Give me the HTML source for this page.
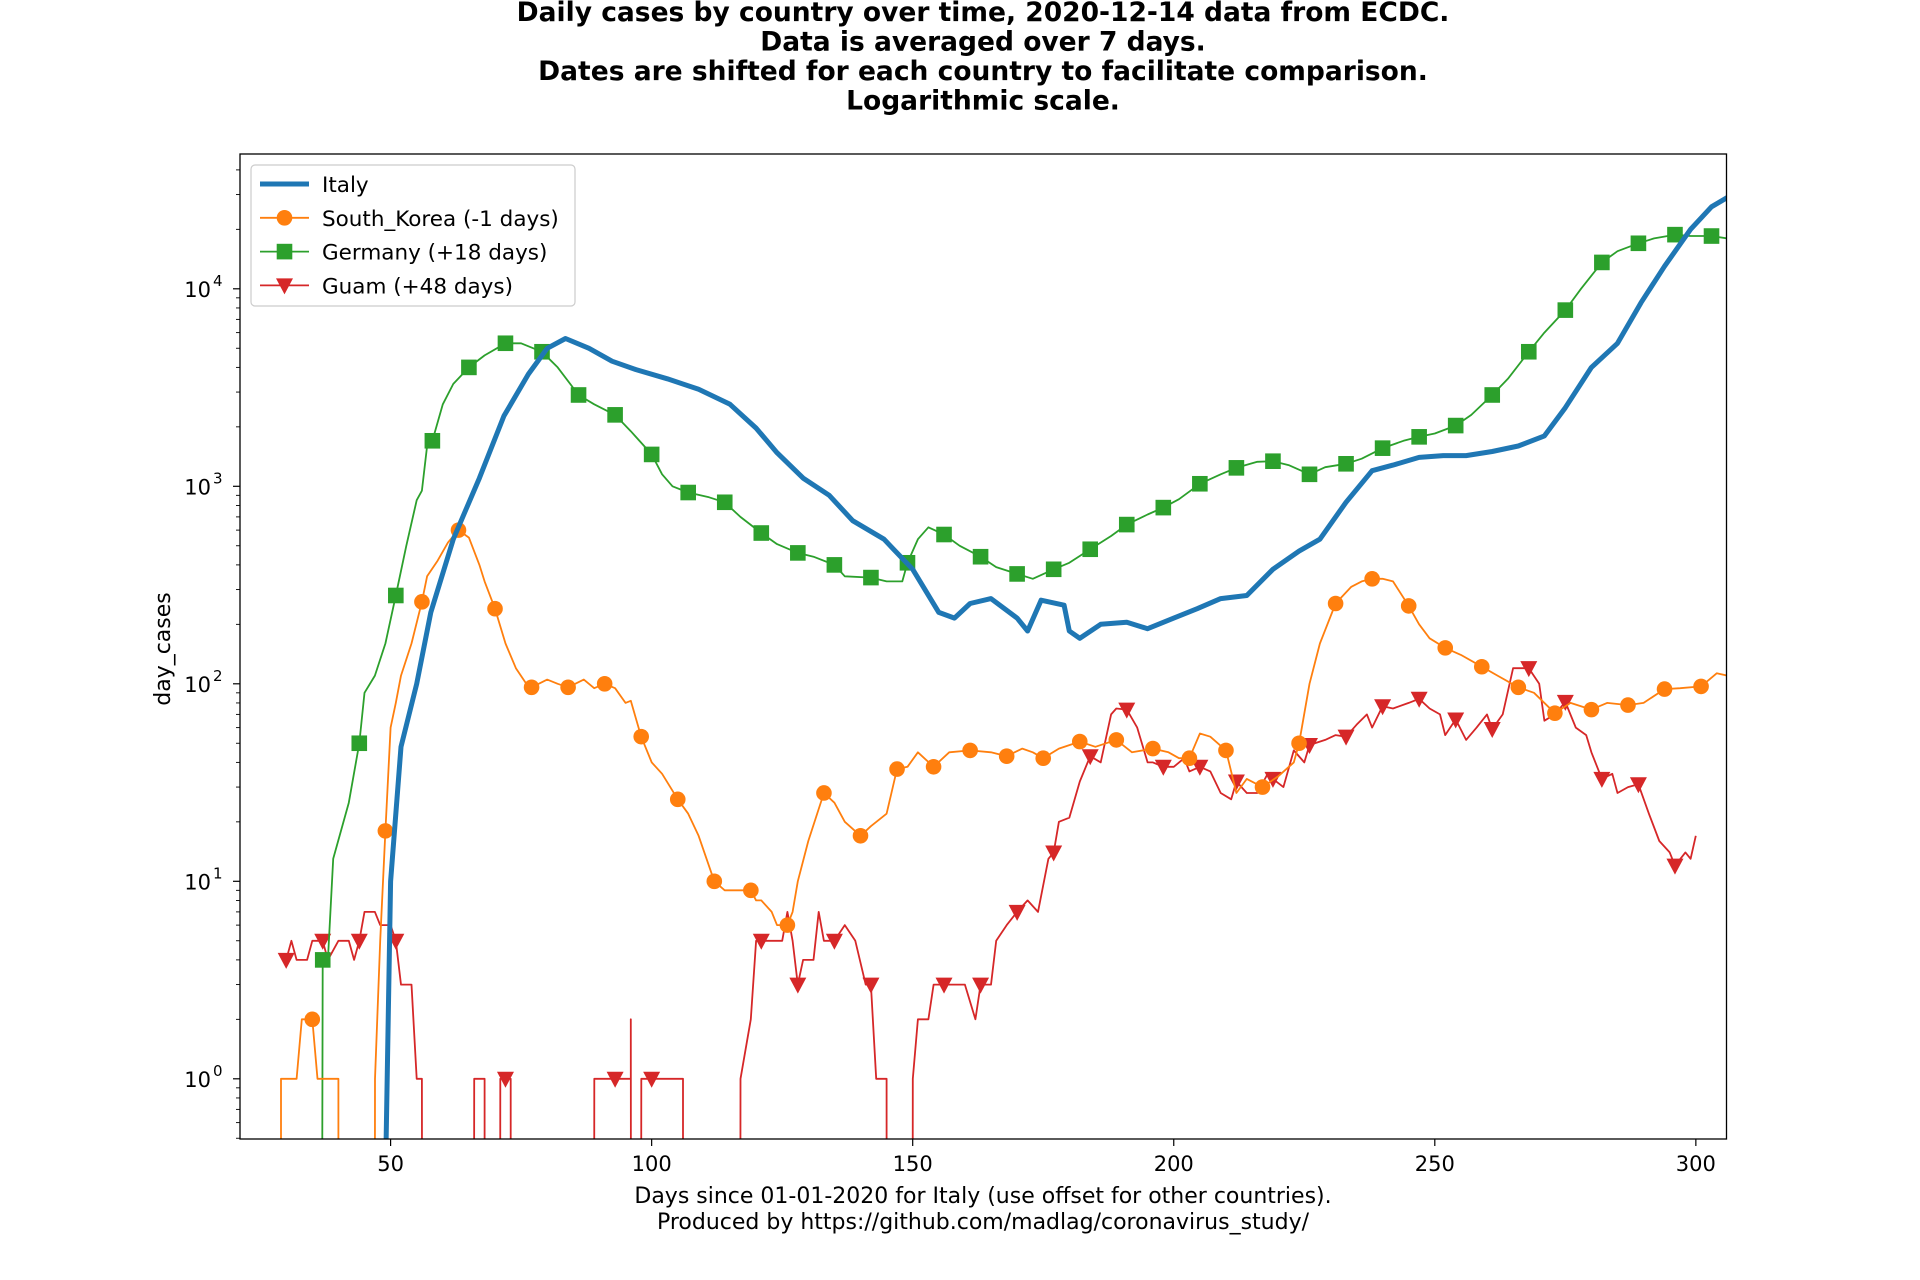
<!DOCTYPE html>
<html><head><meta charset="utf-8"><style>
html,body{margin:0;padding:0;background:#fff;}
svg{display:block;font-family:"DejaVu Sans","Liberation Sans",sans-serif;}
</style></head><body>
<svg id="chart" width="1920" height="1280" viewBox="0 0 1920 1280" xmlns="http://www.w3.org/2000/svg">
<rect width="1920" height="1280" fill="#fff"/>
<g font-weight="bold" font-size="26.5" text-anchor="middle" fill="#000">
<text x="983" y="21">Daily cases by country over time, 2020-12-14 data from ECDC.</text>
<text x="983" y="50.5">Data is averaged over 7 days.</text>
<text x="983" y="80">Dates are shifted for each country to facilitate comparison.</text>
<text x="983" y="109.5">Logarithmic scale.</text>
</g>
<defs><clipPath id="plotclip"><rect x="240" y="154" width="1486.5" height="985"/></clipPath></defs>
<g id="axes"></g>
<g id="series" clip-path="url(#plotclip)"></g>
<rect x="240" y="154" width="1486.5" height="985" fill="none" stroke="#000" stroke-width="1.3"/>
<g font-size="22" text-anchor="middle">
<text x="983" y="1203">Days since 01-01-2020 for Italy (use offset for other countries).</text>
<text x="983" y="1229">Produced by https://github.com/madlag/coronavirus_study/</text>
</g>
<text font-size="22" text-anchor="middle" transform="translate(170,649) rotate(-90)">day_cases</text>
<g id="legend"></g>
</svg>
<script>
const xTicks = [50, 100, 150, 200, 250, 300];
const yTickExps = [0, 1, 2, 3, 4];
const italyDays = [49,50,52,55,57.7,62,64.5,67,71.7,76.4,80,83.5,88,92.4,97,103,109,115,120,124,129,134,138.5,144.5,150,155,158,161,165,170,172,174.6,179,180,182,186,191,195,200,204.5,209,214,219,224,228,233,238,242,247,251.6,256,261,266,271,275,280,285,289.5,294,299,303,306];
const italyVals = [0.3,10,48,100,230,540,770,1100,2270,3700,5000,5600,5000,4300,3900,3500,3100,2600,1970,1480,1100,900,670,540,380,230,215,255,270,215,185,265,250,185,170,200,205,190,215,240,270,280,380,470,540,830,1200,1280,1400,1430,1430,1500,1600,1800,2500,4000,5300,8500,13000,20000,26000,29000];
const germanyDays = [36.9,37,38,39,42,44,45,47,49,51,53,55,56,57,58,60,62,65,68,72,75,79,82,86,89,93,96,100,102,104,107,111,114,117,121,124,128,131,135,137,142,145,148,149,151,153,156,159,163,166,170,173,177,180,184,188,191,195,198,201,205,209,212,216,219,222,226,229,233,236,240,244,247,250,254,257,261,264,268,271,275,278,282,285,289,292,296,299,303,306];
const germanyVals = [0.3,4,4,13,25,50,90,110,160,280,500,850,950,1600,1700,2600,3300,4000,4600,5300,5300,4800,4000,2900,2600,2300,1900,1450,1150,1000,930,880,830,700,580,510,460,440,400,350,345,330,330,410,540,620,570,500,440,390,360,340,380,410,480,560,640,720,780,860,1030,1150,1240,1330,1340,1280,1150,1250,1300,1380,1560,1700,1780,1850,2030,2300,2900,3500,4800,6000,7800,10000,13600,15500,17000,18000,18800,18500,18500,18000];
const koreaDays = [28,29,29.01,32,33,35,36,40,40.01,47,47.01,48,49,50,51,52,54,56,57,59,61,63,65,67,68,70,72,74,76,77,80,82,84,87,89,91,93,95,96,98,100,102,105,107,109,112,114,117,119,120,121,123,124,126,127,128,130,133,135,137,140,142,145,147,149,151,154,157,161,165,168,171,173,175,178,182,185,189,192,196,199,201,203,205,207,210,212,214,217,220,223,224,226,228,231,234,236,238,240,242,245,247,249,252,255,259,262,266,269,273,276,280,283,287,290,294,297,301,304,306];
const koreaVals = [0.3,0.3,1,1,2,2,1,1,0.3,0.3,1,5,18,60,80,110,160,260,350,420,520,600,550,400,330,240,160,120,100,96,105,100,96,105,95,100,95,80,82,54,40,35,26,22,17,10,9,9,9,8,8,7,6,6,7,10,16,28,25,20,17,19,22,37,38,45,38,45,46,45,43,47,45,42,47,51,48,52,45,47,45,42,42,56,54,46,28,33,30,34,40,50,100,160,255,310,330,340,340,330,248,200,170,152,140,122,110,96,90,71,80,74,80,78,80,94,95,97,113,110];
const guamDays = [30,31,32,34,35,37,38,40,42,43,44,45,47,48,50,51,52,54,55,56,56.01,66,66.01,68,68.01,71,71.01,72,73,73.01,89,89.01,93,96,96.01,96.02,98,98.01,100,106,106.01,117,117.01,119,120,121,125,126,127,128,129,131,132,133,135,137,139,141,142,143,145,145.01,150,150.01,151,153,154,156,158,160,162,163,165,166,168,170,172,174,176,177,178,180,182,184,186,188,189,191,193,195,196,198,200,202,203,205,207,209,211,212,214,216,218,219,221,223,225,226,229,231,233,235,237,238,240,242,245,247,249,251,252,254,256,258,260,261,263,265,267,268,270,271,273,275,277,279,280,282,284,285,287,289,291,293,295,296,298,299,300];
const guamVals = [4,5,4,4,5,5,4,5,5,4,5,7,7,6,6,5,3,3,1,1,0.3,0.3,1,1,0.3,0.3,1,1,1,0.3,0.3,1,1,1,2,0.3,0.3,1,1,1,0.3,0.3,1,2,5,5,5,7,5,3,4,4,7,5,5,6,5,3,3,1,1,0.3,0.3,1,2,2,3,3,3,3,2,3,3,5,6,7,8,7,13,14,20,21,32,43,40,70,75,74,60,40,40,38,38,42,36,38,36,28,26,32,28,28,35,33,30,46,40,49,52,55,54,62,70,60,77,75,80,84,75,70,55,66,52,60,70,59,70,120,120,120,100,65,70,81,60,55,45,33,35,28,30,31,22,16,14,12,14,13,17];
const seriesNames = ["Italy", "South_Korea (-1 days)", "Germany (+18 days)", "Guam (+48 days)"];

const NS = "http://www.w3.org/2000/svg";
function xScale(d){ return 390.6 + (d - 50) * 5.221; }
function yScale(v){ return 1078.8 - Math.log10(Math.max(v, 0.2)) * 197.5; }
function mk(tag, attrs, parent){ const e = document.createElementNS(NS, tag); for (const k in attrs) e.setAttribute(k, attrs[k]); parent.appendChild(e); return e; }

const axes = document.getElementById('axes');
xTicks.forEach(t => {
  const x = xScale(t);
  const tk = mk('line', {x1:x, x2:x, y1:1139, y2:1146, stroke:'#000', 'stroke-width':1.2}, axes);
  
  
  const lb = mk('text', {x:x, y:1171, 'font-size':21, 'text-anchor':'middle'}, axes);
  lb.textContent = t;
  
  
});
for (let e = -1; e <= 4; e++) {
  for (let m = 2; m <= 9; m++) {
    const v = m * Math.pow(10, e);
    const y = yScale(v);
    if (y < 154 || y > 1139) continue;
    const mt = mk('line', {x1:236, x2:240, y1:y, y2:y, stroke:'#000', 'stroke-width':0.9}, axes);
    
    
  }
}
yTickExps.forEach(e => {
  const y = yScale(Math.pow(10, e));
  const tk = mk('line', {x1:233, x2:240, y1:y, y2:y, stroke:'#000', 'stroke-width':1.2}, axes);
  
  
  const lb = mk('text', {x:211, y:y + 8, 'font-size':21, 'text-anchor':'end'}, axes);
  lb.textContent = '10';
  
  
  const sp = mk('text', {x:213, y:y - 3, 'font-size':15, 'text-anchor':'start'}, axes);
  sp.textContent = e;
  
  
});

const sg = document.getElementById('series');
function drawMarker(kind, x, y, color, parent){
  let el;
  if (kind === 'circle') el = mk('circle', {cx:x, cy:y, r:7.8, fill:color}, parent);
  else if (kind === 'square') el = mk('rect', {x:x-7.8, y:y-7.8, width:15.6, height:15.6, fill:color}, parent);
  else el = mk('polygon', {points:`${x-8.5},${y-7} ${x+8.5},${y-7} ${x},${y+9}`, fill:color}, parent);
  return el;
}
function drawSeries(name, days, vals, color, width, kind, start){
  const g = mk('g', {}, sg);
  
  
  const pts = days.map((d, i) => xScale(d).toFixed(1) + ',' + yScale(vals[i]).toFixed(1)).join(' ');
  const pl = mk('polyline', {points:pts, fill:'none', stroke:color, 'stroke-width':width, 'stroke-linejoin':'round'}, g);
  
  
  if (kind) {
    days.forEach((d, i) => {
      if (Number.isInteger(d) && (d - start) % 7 === 0 && vals[i] >= 0.5) {
        const m = drawMarker(kind, xScale(d), yScale(vals[i]), color, g);
        
        
      }
    });
  }
}
drawSeries('guam', guamDays, guamVals, '#d62728', 1.8, 'tri', 30);
drawSeries('germany', germanyDays, germanyVals, '#2ca02c', 1.8, 'square', 37);
drawSeries('south-korea', koreaDays, koreaVals, '#ff7f0e', 1.8, 'circle', 28);
drawSeries('italy', italyDays, italyVals, '#1f77b4', 5, null, 0);

const lg = document.getElementById('legend');
const box = mk('rect', {x:251, y:165, width:324, height:141, rx:4, fill:'#fff', 'fill-opacity':0.85, stroke:'#ccc', 'stroke-width':1.2}, lg);


const legColors = ['#1f77b4', '#ff7f0e', '#2ca02c', '#d62728'];
const legKinds = [null, 'circle', 'square', 'tri'];
seriesNames.forEach((n, i) => {
  const y = 184 + i * 33.8;
  const g = mk('g', {}, lg);
  
  
  mk('line', {x1:260, x2:309, y1:y, y2:y, stroke:legColors[i], 'stroke-width': i === 0 ? 5 : 1.8}, g);
  if (legKinds[i]) drawMarker(legKinds[i], 284.5, y, legColors[i], g);
  const t = mk('text', {x:322, y:y + 8, 'font-size':21.5}, g);
  t.textContent = n;
});
</script>
</body></html>
